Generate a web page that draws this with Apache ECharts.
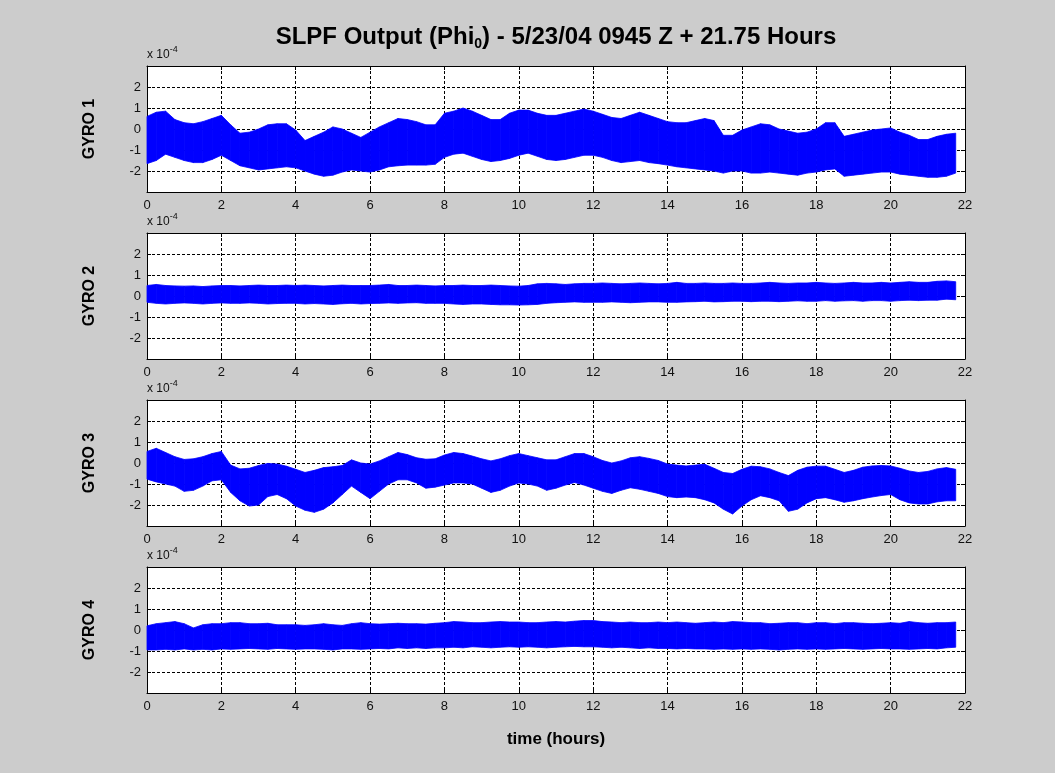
<!DOCTYPE html>
<html>
<head>
<meta charset="utf-8">
<title>SLPF Output</title>
<script src="https://cdn.jsdelivr.net/npm/echarts@6/dist/echarts.min.js"></script>
<style>
  html, body { margin: 0; padding: 0; background: #cccccc; }
  #chart { width: 1055px; height: 773px; }
</style>
</head>
<body>
<div id="chart"></div>
<script>
// Sample times (hours after 5/23/04 0945 Z)
const hours = [
  0, 0.25, 0.5, 0.75, 1, 1.25, 1.5, 1.75,
  2, 2.25, 2.5, 2.75, 3, 3.25, 3.5, 3.75,
  4, 4.25, 4.5, 4.75, 5, 5.25, 5.5, 5.75,
  6, 6.25, 6.5, 6.75, 7, 7.25, 7.5, 7.75,
  8, 8.25, 8.5, 8.75, 9, 9.25, 9.5, 9.75,
  10, 10.25, 10.5, 10.75, 11, 11.25, 11.5, 11.75,
  12, 12.25, 12.5, 12.75, 13, 13.25, 13.5, 13.75,
  14, 14.25, 14.5, 14.75, 15, 15.25, 15.5, 15.75,
  16, 16.25, 16.5, 16.75, 17, 17.25, 17.5, 17.75,
  18, 18.25, 18.5, 18.75, 19, 19.25, 19.5, 19.75,
  20, 20.25, 20.5, 20.75, 21, 21.25, 21.5, 21.75
];

// Upper / lower envelope of each gyro's Phi0 output (units of 1e-4)
const gyro1Upper = [
  0.6, 0.8, 0.85, 0.45, 0.3, 0.25, 0.35, 0.5,
  0.65, 0.2, -0.2, -0.15, 0.0, 0.2, 0.25, 0.25,
  -0.05, -0.55, -0.35, -0.15, 0.1, 0.0, -0.2, -0.4,
  -0.15, 0.1, 0.3, 0.5, 0.45, 0.35, 0.2, 0.2,
  0.75, 0.85, 1.0, 0.85, 0.65, 0.45, 0.45, 0.75,
  0.9, 0.9, 0.75, 0.65, 0.65, 0.75, 0.85, 0.95,
  0.85, 0.7, 0.55, 0.5, 0.65, 0.8, 0.65, 0.5,
  0.35, 0.3, 0.3, 0.4, 0.5, 0.4, -0.3, -0.3,
  -0.05, 0.1, 0.25, 0.2, 0.0, -0.1, -0.2, -0.15,
  0.0, 0.3, 0.3, -0.35, -0.25, -0.15, -0.05, 0.0,
  0.05, -0.15, -0.3, -0.5, -0.5, -0.35, -0.25, -0.2
];
const gyro1Lower = [
  -1.65, -1.5, -1.2, -1.35, -1.5, -1.6, -1.6, -1.45,
  -1.25, -1.5, -1.75, -1.85, -1.95, -1.9, -1.85, -1.8,
  -1.85, -2.0, -2.15, -2.25, -2.2, -2.05, -1.95, -2.0,
  -2.05, -1.95, -1.8, -1.75, -1.72, -1.72, -1.72, -1.68,
  -1.35, -1.2, -1.15, -1.3, -1.45, -1.55, -1.5, -1.4,
  -1.25, -1.15, -1.3, -1.45, -1.5, -1.45, -1.35, -1.25,
  -1.25, -1.35, -1.5, -1.6, -1.55, -1.5, -1.6, -1.65,
  -1.72, -1.8, -1.85, -1.9, -1.95, -2.0, -2.1, -2.0,
  -2.0, -2.1, -2.1, -2.05, -2.1, -2.15, -2.2, -2.1,
  -2.05, -1.95, -1.9, -2.25, -2.2, -2.15, -2.1, -2.05,
  -2.05, -2.15, -2.2, -2.25, -2.3, -2.3, -2.25, -2.1
];

const gyro2Upper = [
  0.5, 0.55, 0.5, 0.48, 0.47, 0.48, 0.45, 0.48,
  0.5, 0.5, 0.48, 0.5, 0.52, 0.5, 0.5, 0.52,
  0.5, 0.52, 0.5, 0.48, 0.5, 0.52, 0.5, 0.5,
  0.5, 0.52, 0.55, 0.5, 0.5, 0.52, 0.5, 0.48,
  0.5, 0.5, 0.52, 0.5, 0.5, 0.52, 0.5, 0.48,
  0.47, 0.5, 0.58, 0.6, 0.58, 0.55, 0.58, 0.6,
  0.6, 0.62, 0.6, 0.58, 0.6, 0.62, 0.6, 0.58,
  0.6, 0.65, 0.6, 0.6, 0.62, 0.6, 0.6, 0.62,
  0.6, 0.6, 0.62, 0.65, 0.62, 0.6, 0.62, 0.62,
  0.65, 0.62, 0.6, 0.62, 0.65, 0.62, 0.62, 0.65,
  0.62, 0.65, 0.68, 0.65, 0.65, 0.7, 0.72, 0.68
];
const gyro2Lower = [
  -0.3, -0.35, -0.38, -0.35, -0.33, -0.35, -0.38, -0.35,
  -0.33, -0.35, -0.35, -0.33, -0.35, -0.38, -0.36, -0.35,
  -0.35, -0.38, -0.36, -0.38, -0.4, -0.37, -0.35, -0.38,
  -0.36, -0.35, -0.33, -0.35, -0.33, -0.32, -0.35, -0.35,
  -0.35, -0.38, -0.4, -0.38, -0.38, -0.4, -0.42, -0.42,
  -0.43, -0.42, -0.4, -0.35, -0.32, -0.3, -0.28, -0.3,
  -0.3, -0.3, -0.28, -0.3, -0.32, -0.3, -0.28, -0.28,
  -0.3, -0.3, -0.28, -0.27, -0.25, -0.28, -0.27, -0.25,
  -0.25, -0.27, -0.25, -0.25, -0.27, -0.25, -0.23, -0.25,
  -0.25, -0.22, -0.25, -0.23, -0.22, -0.25, -0.22, -0.22,
  -0.25, -0.22, -0.2, -0.22, -0.2, -0.2, -0.15, -0.18
];

const gyro3Upper = [
  0.55, 0.7, 0.5, 0.3, 0.17, 0.2, 0.3, 0.45,
  0.55, -0.1, -0.28, -0.25, -0.12, -0.02, -0.05, -0.15,
  -0.3, -0.45, -0.35, -0.22, -0.18, -0.12, 0.15, 0.0,
  -0.05, 0.1, 0.3, 0.5, 0.4, 0.25, 0.18, 0.2,
  0.38, 0.5, 0.45, 0.33, 0.2, 0.1, 0.2, 0.35,
  0.45, 0.35, 0.25, 0.15, 0.15, 0.3, 0.45, 0.45,
  0.3, 0.12, 0.0, 0.1, 0.25, 0.3, 0.22, 0.12,
  -0.05, -0.1, -0.14, -0.1, -0.06, -0.25, -0.45, -0.5,
  -0.3, -0.15, -0.18, -0.28, -0.45, -0.6, -0.35, -0.2,
  -0.15, -0.15, -0.3, -0.45, -0.35, -0.2, -0.14, -0.12,
  -0.14, -0.25, -0.38, -0.45, -0.4, -0.28, -0.22, -0.3
];
const gyro3Lower = [
  -0.77, -0.9, -1.0, -1.1, -1.35, -1.3, -1.1, -0.85,
  -0.8, -1.4, -1.8, -2.05, -2.0, -1.6, -1.5, -1.7,
  -2.05, -2.25, -2.35, -2.2, -1.9, -1.5, -1.1, -1.4,
  -1.7, -1.35, -1.0, -0.8, -0.8, -0.95, -1.2, -1.15,
  -1.05, -0.95, -0.95, -1.0, -1.2, -1.4, -1.3, -1.1,
  -0.95, -1.0, -1.1, -1.3, -1.2, -1.05, -0.93, -1.05,
  -1.2, -1.35, -1.45, -1.3, -1.18, -1.25, -1.35, -1.45,
  -1.6, -1.65, -1.62, -1.65, -1.75, -1.9, -2.2, -2.43,
  -2.05, -1.75, -1.56, -1.65, -1.8, -2.3, -2.2, -1.9,
  -1.7, -1.65, -1.75, -1.87, -1.8, -1.7, -1.62, -1.55,
  -1.5, -1.75, -1.9, -1.95, -1.95, -1.85, -1.8, -1.8
];

const gyro4Upper = [
  0.2, 0.3, 0.35, 0.4, 0.3, 0.1, 0.25, 0.3,
  0.3, 0.35, 0.35, 0.3, 0.3, 0.32, 0.25, 0.25,
  0.25, 0.22, 0.25, 0.3, 0.25, 0.22, 0.3, 0.35,
  0.3, 0.28, 0.3, 0.32, 0.3, 0.3, 0.28, 0.32,
  0.35, 0.4, 0.38, 0.35, 0.35, 0.38, 0.4, 0.38,
  0.38, 0.35, 0.35, 0.38, 0.4, 0.38, 0.42, 0.45,
  0.45, 0.4, 0.38, 0.35, 0.38, 0.35, 0.35, 0.38,
  0.35, 0.38, 0.35, 0.32, 0.35, 0.38, 0.35, 0.4,
  0.38, 0.35, 0.35, 0.3, 0.32, 0.35, 0.35, 0.3,
  0.35, 0.35, 0.3, 0.35, 0.35, 0.32, 0.3, 0.32,
  0.35, 0.32, 0.4, 0.35, 0.32, 0.35, 0.35, 0.38
];
const gyro4Lower = [
  -0.95, -0.95, -0.92, -0.95, -0.9, -0.95, -0.92, -0.95,
  -0.9, -0.92, -0.9, -0.88, -0.9, -0.92, -0.88, -0.9,
  -0.92, -0.9, -0.9, -0.92, -0.95, -0.9, -0.9, -0.92,
  -0.9, -0.88, -0.9, -0.85, -0.88, -0.85, -0.88, -0.85,
  -0.85, -0.82, -0.85, -0.8, -0.82, -0.85, -0.82, -0.8,
  -0.82, -0.8, -0.82, -0.85, -0.82, -0.8, -0.78, -0.8,
  -0.8, -0.82, -0.85, -0.82, -0.85, -0.88, -0.85, -0.88,
  -0.88, -0.9, -0.88, -0.9, -0.9, -0.92, -0.9, -0.92,
  -0.9, -0.92, -0.9, -0.92, -0.95, -0.92, -0.9, -0.92,
  -0.9, -0.92, -0.9, -0.88, -0.9, -0.92, -0.9, -0.88,
  -0.9, -0.9, -0.92, -0.9, -0.88, -0.9, -0.85, -0.82
];

const gyroNames = ['GYRO 1', 'GYRO 2', 'GYRO 3', 'GYRO 4'];
const xTickLabels = [0, 2, 4, 6, 8, 10, 12, 14, 16, 18, 20, 22];
const yTickLabels = [-2, -1, 0, 1, 2];
const titleText = 'SLPF Output (Phi';
const titleSub = '0';
const titleTail = ') - 5/23/04 0945 Z + 21.75 Hours';
const xAxisTitle = 'time (hours)';

const uppers = [gyro1Upper, gyro2Upper, gyro3Upper, gyro4Upper];
const lowers = [gyro1Lower, gyro2Lower, gyro3Lower, gyro4Lower];

// Panel layout
const FONT = '"Liberation Sans", Arial, Helvetica, sans-serif';
const PLOT_LEFT = 147;
const PLOT_WIDTH = 818;
const PLOT_HEIGHT = 126;
const PLOT_TOPS = [66, 233, 400, 567];

const grids = [], xAxes = [], yAxes = [], series = [], graphics = [];

PLOT_TOPS.forEach((top, k) => {
  grids.push({
    left: PLOT_LEFT, top: top, width: PLOT_WIDTH, height: PLOT_HEIGHT,
    show: true, backgroundColor: '#ffffff', borderWidth: 0,
    outerBoundsMode: 'none'
  });
});

function xAxisFor(k, pos) {
  const bottom = pos === 'bottom';
  return {
    type: 'value', gridIndex: k, position: pos,
    min: 0, max: 22, interval: 2,
    axisLine: { show: true, onZero: false, lineStyle: { color: '#000', width: 1 } },
    axisTick: { show: true, inside: true, length: 4, lineStyle: { color: '#000' } },
    axisLabel: {
      show: bottom, color: '#111', fontSize: 13, fontFamily: FONT, margin: 7,
      showMinLabel: true, showMaxLabel: true, hideOverlap: false,
      formatter: v => (xTickLabels.indexOf(v) >= 0 ? String(v) : '')
    },
    splitLine: { show: bottom, lineStyle: { color: '#000', width: 1, type: [3, 2] } },
    name: (bottom && k === 3) ? xAxisTitle : '',
    nameLocation: 'middle', nameGap: 38,
    nameTextStyle: { color: '#000', fontSize: 17, fontWeight: 'bold', fontFamily: FONT }
  };
}

function yAxisFor(k, pos) {
  const left = pos === 'left';
  return {
    type: 'value', gridIndex: k, position: pos,
    min: -3, max: 3, interval: 1,
    axisLine: { show: true, onZero: false, lineStyle: { color: '#000', width: 1 } },
    axisTick: {
      show: true, inside: true, length: 4, lineStyle: { color: '#000' },
      customValues: yTickLabels
    },
    axisLabel: {
      show: left, color: '#111', fontSize: 13, fontFamily: FONT, margin: 6,
      customValues: yTickLabels,
      formatter: v => String(v)
    },
    splitLine: { show: left, lineStyle: { color: '#000', width: 1, type: [3, 2] } },
    name: left ? gyroNames[k] : '',
    nameLocation: 'middle', nameGap: 49, nameRotate: 90,
    nameTextStyle: { color: '#000', fontSize: 16, fontWeight: 'bold', fontFamily: FONT }
  };
}

for (let k = 0; k < 4; k++) xAxes.push(xAxisFor(k, 'bottom'));
for (let k = 0; k < 4; k++) xAxes.push(xAxisFor(k, 'top'));
for (let k = 0; k < 4; k++) yAxes.push(yAxisFor(k, 'left'));
for (let k = 0; k < 4; k++) yAxes.push(yAxisFor(k, 'right'));

// Each gyro trace is drawn as the band between its lower and upper envelope
function bandSeries(k) {
  const up = uppers[k], lo = lowers[k];
  return {
    type: 'custom', name: gyroNames[k],
    xAxisIndex: k, yAxisIndex: k,
    data: hours.map((h, i) => [h, lo[i], up[i]]),
    encode: { x: 0, y: [1, 2] },
    silent: true, animation: false, z: 3,
    renderItem(params, api) {
      const i = params.dataIndex;
      if (i >= hours.length - 1) return null;
      const a = api.coord([hours[i], up[i]]);
      const b = api.coord([hours[i + 1], up[i + 1]]);
      const c = api.coord([hours[i + 1], lo[i + 1]]);
      const d = api.coord([hours[i], lo[i]]);
      return {
        type: 'polygon',
        shape: { points: [a, b, c, d] },
        style: { fill: '#0000ff', stroke: '#0000ff', lineWidth: 0.8 }
      };
    }
  };
}
for (let k = 0; k < 4; k++) series.push(bandSeries(k));

// Exponent marker above each panel
PLOT_TOPS.forEach(top => {
  graphics.push({
    type: 'text', x: PLOT_LEFT, y: top - 11,
    style: {
      text: '{a|x 10}{s|-4}',
      align: 'left', verticalAlign: 'middle',
      rich: {
        a: { fontSize: 12, lineHeight: 20, fontFamily: FONT, fill: '#111' },
        s: { fontSize: 9, lineHeight: 9, verticalAlign: 'top', fontFamily: FONT, fill: '#111' }
      }
    }
  });
});

// Figure title
graphics.push({
  type: 'text', x: PLOT_LEFT + PLOT_WIDTH / 2, y: 37,
  style: {
    text: '{a|' + titleText + '}{s|' + titleSub + '}{a|' + titleTail + '}',
    align: 'center', verticalAlign: 'middle',
    rich: {
      a: { fontSize: 24, fontWeight: 'bold', lineHeight: 28, fontFamily: FONT, fill: '#000' },
      s: { fontSize: 14, fontWeight: 'bold', lineHeight: 14, verticalAlign: 'bottom', fontFamily: FONT, fill: '#000' }
    }
  }
});

const chart = echarts.init(document.getElementById('chart'), null, { renderer: 'canvas' });
chart.setOption({
  backgroundColor: '#cccccc',
  animation: false,
  grid: grids,
  xAxis: xAxes,
  yAxis: yAxes,
  series: series,
  graphic: graphics
});
</script>
</body>
</html>
